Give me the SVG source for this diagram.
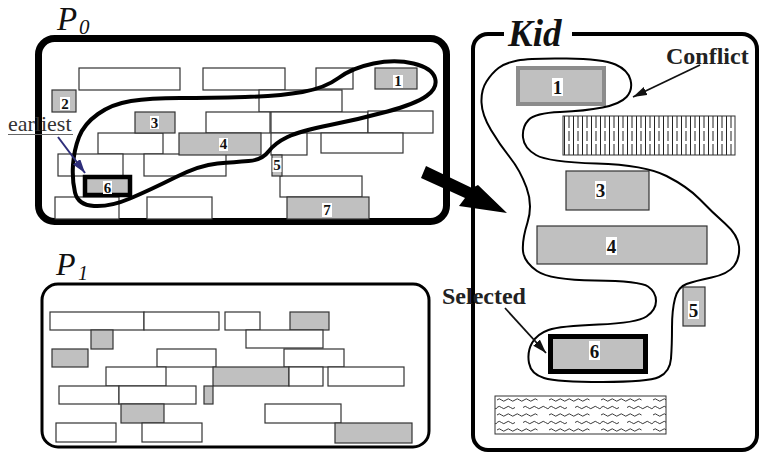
<svg xmlns="http://www.w3.org/2000/svg" width="761" height="455" viewBox="0 0 761 455">
<style>
.w{fill:#fff;stroke:#333;stroke-width:1.2}
.g{fill:#c0c0c0;stroke:#333;stroke-width:1.2}
.pt{fill:#fff}
.n{font-family:"Liberation Serif",serif;font-weight:bold;text-anchor:middle;fill:#111}
.s{font-size:15px}
.b{font-size:19px}
.ttl{font-family:"Liberation Serif",serif;font-style:italic;fill:#111}
.lab{font-family:"Liberation Serif",serif;font-weight:bold;font-size:24px;fill:#222}
</style>
<defs>
<marker id="ah" markerUnits="userSpaceOnUse" markerWidth="16" markerHeight="10" refX="14" refY="4.5" orient="auto">
<path d="M0,0 L14,4.5 L0,9 z" fill="#111"/>
</marker>
<marker id="ahb" markerUnits="userSpaceOnUse" markerWidth="16" markerHeight="10" refX="14" refY="4.5" orient="auto">
<path d="M0,0 L14,4.5 L0,9 z" fill="#2e2e7a"/>
</marker>
<pattern id="hatch" patternUnits="userSpaceOnUse" x="563" y="116" width="9" height="39">
<rect width="9" height="39" fill="#fff"/>
<path d="M1.5,0 V39" stroke="#222" stroke-width="1"/>
<path d="M6,0 V12 M6,15 V25 M6,28 V39" stroke="#222" stroke-width="1"/>
</pattern>
<pattern id="waves" patternUnits="userSpaceOnUse" x="497" y="396" width="52" height="15">
<rect width="52" height="15" fill="#fff"/>
<path d="M0,4 q2.25,-2.4 4.5,0 t4.5,0 t4.5,0 t4.5,0 t4.5,0 t4.5,0 t4.5,0 t4.5,0 t4.5,0 M26,11.5 q2.25,-2.4 4.5,0 t4.5,0 t4.5,0 t4.5,0 t4.5,0 t4.5,0 M0,11.5 q2.25,-2.4 4.5,0 t4.5,0 t4.5,0 t4.5,0" fill="none" stroke="#222" stroke-width="0.9"/>
</pattern>
</defs>
<rect width="761" height="455" fill="#fff"/>

<g id="P0">
<rect x="38.5" y="38.5" width="408" height="183" rx="16" fill="#fff" stroke="#000" stroke-width="7"/>
<text class="ttl" x="57" y="29.5" font-size="33">P</text><text class="ttl" x="79" y="34" font-size="21">0</text>
<g id="p0-boxes">
<rect class="w" x="79" y="68" width="101" height="22"/>
<rect class="w" x="203" y="68" width="82" height="22"/>
<rect class="w" x="316" y="68" width="37" height="21"/>
<rect class="w" x="259" y="90" width="83" height="22"/>
<rect class="w" x="206" y="112" width="64" height="21"/>
<rect class="w" x="271" y="112" width="97" height="21"/>
<rect class="w" x="368" y="111" width="65" height="22"/>
<rect class="w" x="98" y="133" width="65" height="21"/>
<rect class="w" x="271" y="133" width="36" height="22"/>
<rect class="w" x="321" y="133" width="82" height="20"/>
<rect class="w" x="58" y="154" width="65" height="22"/>
<rect class="w" x="144" y="154" width="82" height="22"/>
<rect class="w" x="280" y="176" width="82" height="21"/>
<rect class="w" x="55" y="197" width="64" height="22"/>
<rect class="w" x="147" y="197" width="65" height="22"/>
</g>
<g id="p0-t1"><rect class="g" x="375" y="68" width="42" height="21"/><rect class="pt" x="393" y="75" width="10" height="13"/><text class="n s" x="398" y="86">1</text></g>
<g id="p0-t2"><rect class="g" x="52" y="90" width="24" height="22"/><rect class="pt" x="60" y="97" width="10" height="13"/><text class="n s" x="65" y="108.5">2</text></g>
<g id="p0-t3"><rect class="g" x="135" y="112" width="40" height="21"/><rect class="pt" x="150" y="116" width="9" height="13"/><text class="n s" x="154.5" y="127.5">3</text></g>
<g id="p0-t4"><rect class="g" x="179" y="133" width="82" height="22"/><rect class="pt" x="219" y="138" width="9" height="13"/><text class="n s" x="223.5" y="149">4</text></g>
<g id="p0-t5"><rect class="g" x="272" y="155" width="10" height="21"/><rect class="pt" x="272.5" y="158" width="9" height="14"/><text class="n s" x="277" y="170">5</text></g>
<g id="p0-t6"><rect x="85" y="177" width="45" height="18" fill="#c0c0c0" stroke="#000" stroke-width="4.5"/><rect class="pt" x="103" y="181" width="9" height="13"/><text class="n s" x="107.5" y="192.5">6</text></g>
<g id="p0-t7"><rect class="g" x="287" y="197" width="82" height="22"/><rect class="pt" x="322" y="203" width="10" height="14"/><text class="n s" x="327" y="215">7</text></g>
<path id="p0-blob" d="M73,165 Q74,150 79,137 Q84,124 98,114 Q112,104 131,101 Q150,98 180,98 Q210,98 245,97 Q280,96 302.5,92 Q325,88 338.5,78 Q352,68 373.5,63.5 Q395,59 413.5,63.5 Q432,68 435,78 Q438,88 426.5,96 Q415,104 387.5,111.5 Q360,119 330,125 Q300,131 287.5,137 Q275,143 268.5,151.5 Q262,160 248.5,161 Q235,162 217.5,163.5 Q200,165 175,177.5 Q150,190 130,198.5 Q110,207 94,206 Q78,205 75,192.5 Q72,180 73,165 Z" fill="none" stroke="#000" stroke-width="4"/>
</g>

<g id="earliest">
<text x="8" y="131" font-family="Liberation Serif, serif" font-size="22" fill="#333">earliest</text>
<line x1="8" y1="134.5" x2="73" y2="134.5" stroke="#666" stroke-width="1"/>
</g>

<g id="P1">
<rect x="42" y="284" width="387" height="163" rx="16" fill="#fff" stroke="#000" stroke-width="3"/>
<text class="ttl" x="56" y="275" font-size="32">P</text><text class="ttl" x="78" y="280" font-size="20">1</text>
<rect class="w" x="50" y="312" width="94" height="18"/>
<rect class="w" x="144" y="312" width="75" height="18"/>
<rect class="w" x="225" y="312" width="35" height="18"/>
<rect class="g" x="290" y="312" width="39" height="18"/>
<rect class="g" x="91" y="330" width="22" height="19"/>
<rect class="w" x="246" y="330" width="77" height="18"/>
<rect class="g" x="52" y="349" width="36" height="18"/>
<rect class="w" x="157" y="349" width="59" height="18"/>
<rect class="w" x="284" y="349" width="60" height="18"/>
<rect class="w" x="106" y="367" width="60" height="19"/>
<rect class="g" x="213" y="367" width="76" height="19"/>
<rect class="w" x="289" y="367" width="34" height="19"/>
<rect class="w" x="328" y="367" width="76" height="19"/>
<rect class="w" x="59" y="386" width="60" height="18"/>
<rect class="w" x="119" y="386" width="77" height="18"/>
<rect class="g" x="204" y="386" width="9" height="18"/>
<rect class="g" x="121" y="404" width="43" height="19"/>
<rect class="w" x="265" y="404" width="76" height="19"/>
<rect class="w" x="56" y="423" width="60" height="19"/>
<rect class="w" x="142" y="423" width="60" height="19"/>
<rect class="g" x="335" y="423" width="77" height="20"/>
</g>

<g id="Kid">
<path d="M504,34 H488 A15,15 0 0 0 473,49 V435 A15,15 0 0 0 488,450 H742 A15,15 0 0 0 757,435 V49 A15,15 0 0 0 742,34 H572" fill="none" stroke="#000" stroke-width="4"/>
<text x="508" y="46" font-family="Liberation Serif, serif" font-weight="bold" font-style="italic" font-size="37" fill="#111">Kid</text>
</g>
<g id="k1"><rect x="518" y="68" width="86" height="36" fill="#c0c0c0" stroke="#8c8c8c" stroke-width="4"/><rect class="pt" x="552" y="78" width="11" height="18"/><text class="n b" x="557.5" y="93.5">1</text></g>
<g id="k-hatch"><rect x="563" y="116" width="172" height="39" fill="url(#hatch)" stroke="#333" stroke-width="1"/></g>
<g id="k3"><rect class="g" x="566" y="171" width="83" height="39"/><rect class="pt" x="595" y="181" width="11" height="18"/><text class="n b" x="600.5" y="196.5">3</text></g>
<g id="k4"><rect class="g" x="537" y="226" width="170" height="38"/><rect class="pt" x="606" y="237" width="11" height="18"/><text class="n b" x="611.5" y="252.5">4</text></g>
<g id="k5"><rect class="g" x="683" y="287" width="22" height="39"/><rect class="pt" x="688" y="301" width="11" height="18"/><text class="n b" x="693.5" y="316.5">5</text></g>
<g id="k6"><rect x="550.5" y="336.5" width="95" height="35" fill="#c0c0c0" stroke="#000" stroke-width="5"/><rect class="pt" x="589" y="341" width="11" height="19"/><text class="n b" x="594.5" y="357.5">6</text></g>
<g id="k-waves"><rect x="495" y="396" width="171" height="38" fill="url(#waves)" stroke="#333" stroke-width="1"/></g>
<path id="kid-blob" d="M486.5,81.5 Q492,73 498.5,68 Q505,63 517.5,60.5 Q530,58 566.5,58.5 Q603,59 615.5,64.5 Q628,70 630.5,80 Q633,90 626.5,97 Q620,104 602.5,107.5 Q585,111 560,112 Q535,113 528.5,120 Q522,127 523,137.5 Q524,148 536,155 Q548,162 596.5,163.5 Q645,165 666.5,176 Q688,187 700,199.5 Q712,212 725,223.5 Q738,235 739,246.5 Q740,258 734,266 Q728,274 711.5,277.5 Q695,281 686.5,284 Q678,287 675,298.5 Q672,310 672,327.5 Q672,345 671,358.5 Q670,372 659,377 Q648,382 602.5,382 Q557,382 544,378 Q531,374 529,363 Q527,352 532,343 Q537,334 548.5,330 Q560,326 598.5,324.5 Q637,323 646.5,316.5 Q656,310 656,301 Q656,292 648,286.5 Q640,281 595,280.5 Q550,280 537,271 Q524,262 523,251 Q522,240 527.5,222.5 Q533,205 526.5,187.5 Q520,170 510,157.5 Q500,145 491,130 Q482,115 481.5,102.5 Q481,90 486.5,81.5 Z" fill="none" stroke="#000" stroke-width="2"/>

<g id="labels">
<text class="lab" x="666" y="64">Conflict</text>
<text class="lab" x="442" y="304">Selected</text>
</g>

<g id="connectors">
<polygon points="426,166 472,188 478,185 507,213 459,206 465,198 421,178" fill="#000"/>
<line x1="700" y1="65" x2="633" y2="97" stroke="#111" stroke-width="1.8" marker-end="url(#ah)"/>
<line x1="505" y1="308" x2="546" y2="353" stroke="#111" stroke-width="1.8" marker-end="url(#ah)"/>
<line x1="58" y1="137" x2="85" y2="173" stroke="#2e2e7a" stroke-width="2" marker-end="url(#ahb)"/>
</g>
</svg>
